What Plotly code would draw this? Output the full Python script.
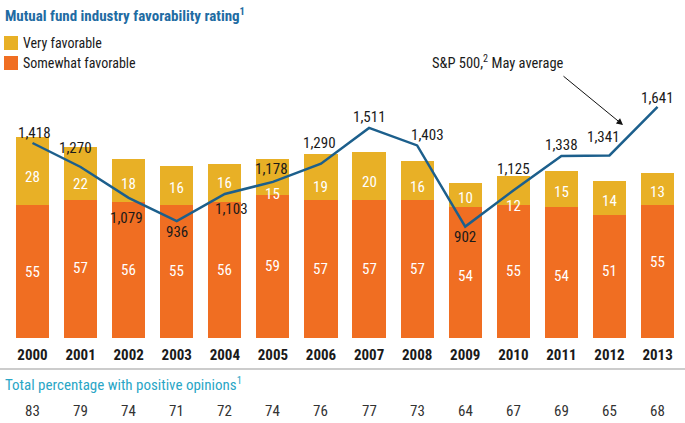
import plotly.graph_objects as go

# ---------------- data ----------------
years = ["2000", "2001", "2002", "2003", "2004", "2005", "2006",
         "2007", "2008", "2009", "2010", "2011", "2012", "2013"]
somewhat_favorable = [55, 57, 56, 55, 56, 59, 57, 57, 57, 54, 55, 54, 51, 55]
very_favorable = [28, 22, 18, 16, 16, 15, 19, 20, 16, 10, 12, 15, 14, 13]
sp500_may_avg = [1418, 1270, 1079, 936, 1103, 1178, 1290,
                 1511, 1403, 902, 1125, 1338, 1341, 1641]
total_positive = [83, 79, 74, 71, 72, 74, 76, 77, 73, 64, 67, 69, 65, 68]

# ---------------- style ----------------
FONT = "Roboto Condensed, Noto Sans Condensed, Liberation Sans Narrow, DejaVu Sans Condensed, sans-serif"
YELLOW = "#E8B026"
ORANGE = "#F06E22"
LINE = "#1C5F8C"
TITLE_BLUE = "#1F6CA3"
TEAL = "#2AA6C6"
DARK = "#1a1a1a"

W, H = 685, 423
PLOT_H = 338  # pixel height of plot area (baseline of bars)


def py(pix):
    """paper y from a pixel row"""
    return (PLOT_H - pix) / PLOT_H


def px(pix):
    return pix / W


idx = list(range(len(years)))

fig = go.Figure()
fig.add_trace(go.Bar(x=years, y=somewhat_favorable, name="Somewhat favorable",
                     marker=dict(color=ORANGE, line=dict(width=0)), hoverinfo="skip"))
fig.add_trace(go.Bar(x=years, y=very_favorable, name="Very favorable",
                     marker=dict(color=YELLOW, line=dict(width=0)), hoverinfo="skip"))
fig.add_trace(go.Scatter(x=years, y=sp500_may_avg, mode="lines", yaxis="y2",
                         line=dict(color=LINE, width=2.5), name="S&P 500",
                         hoverinfo="skip"))

ann = []
# label offsets (pixels, positive = down) to keep labels clear of the line
yellow_shift = [6, 11, 3, 2, 0, 17, 10, 6, 6, 3, 16, 3, 3, 3]
orange_shift = [1, -1, 0, 0, 0, -1, 0, 0, 0, 3, 0, 3, -5, -9]
for i in idx:
    o, v = somewhat_favorable[i], very_favorable[i]
    ann.append(dict(x=i, y=o / 2, xref="x", yref="y", text=str(o), showarrow=False,
                    yshift=-orange_shift[i],
                    font=dict(family=FONT, size=15, color="white")))
    ann.append(dict(x=i, y=o + v / 2, xref="x", yref="y", text=str(v), showarrow=False,
                    yshift=-yellow_shift[i],
                    font=dict(family=FONT, size=15, color="white")))

# S&P labels offsets (xshift, yshift) in px
sp_off = [(2, 10), (-5, 19), (-2, -20), (0, -11), (7, -15), (-1, 13), (-1, 21),
          (0, 11), (10, 10), (0, -10), (0, 21), (0, 11), (-6, 18), (0, 9)]
for i in idx:
    dx, dy = sp_off[i]
    ann.append(dict(x=i, y=sp500_may_avg[i], xref="x", yref="y2",
                    text=f"{sp500_may_avg[i]:,}", showarrow=False,
                    xshift=dx, yshift=dy,
                    font=dict(family=FONT, size=15, color=DARK)))

# total percentage row
for i in idx:
    ann.append(dict(x=i, y=py(411), xref="x", yref="paper", text=str(total_positive[i]),
                    showarrow=False, yanchor="middle",
                    font=dict(family=FONT, size=15, color="#333333")))

# titles
ann.append(dict(x=px(3), y=py(15), xref="paper", yref="paper", xanchor="left",
                yanchor="middle", showarrow=False,
                text="<b>Mutual fund industry favorability rating<sup>1</sup></b>",
                font=dict(family=FONT, size=15, color=TITLE_BLUE)))
ann.append(dict(x=px(3), y=py(384), xref="paper", yref="paper", xanchor="left",
                yanchor="middle", showarrow=False,
                text="Total percentage with positive opinions<sup>1</sup>",
                font=dict(family=FONT, size=15, color=TEAL)))

# legend (manual)
ann.append(dict(x=px(21), y=py(43), xref="paper", yref="paper", xanchor="left",
                yanchor="middle", showarrow=False, text="Very favorable",
                font=dict(family=FONT, size=14, color=DARK)))
ann.append(dict(x=px(21), y=py(63), xref="paper", yref="paper", xanchor="left",
                yanchor="middle", showarrow=False, text="Somewhat favorable",
                font=dict(family=FONT, size=14, color=DARK)))

# S&P annotation and arrow
ann.append(dict(x=px(498), y=py(63), xref="paper", yref="paper",
                xanchor="center", yanchor="middle",
                showarrow=False, text="S&P 500,<sup>2</sup> May average",
                font=dict(family=FONT, size=14.5, color=DARK)))
ann.append(dict(x=px(623), y=py(125), xref="paper", yref="paper", text="",
                showarrow=True, ax=-61, ay=-50, arrowhead=2, arrowsize=1.3,
                arrowwidth=1, arrowcolor="#111111"))

shapes = [
    dict(type="rect", xref="paper", yref="paper", x0=px(4), x1=px(18),
         y0=py(50), y1=py(36), fillcolor=YELLOW, line=dict(width=0)),
    dict(type="rect", xref="paper", yref="paper", x0=px(4), x1=px(18),
         y0=py(70), y1=py(56), fillcolor=ORANGE, line=dict(width=0)),
    dict(type="line", xref="paper", yref="paper", x0=0, x1=1,
         y0=py(369), y1=py(369), line=dict(color="#BBBBBB", width=1.5)),
]

x0 = -32.5 / 48.08
x1 = (W - 32.5) / 48.08
fig.update_layout(
    width=W, height=H,
    margin=dict(l=0, r=0, t=0, b=H - PLOT_H, pad=0),
    paper_bgcolor="white", plot_bgcolor="white",
    barmode="stack", bargap=0.31,
    showlegend=False,
    xaxis=dict(type="category", range=[x0, x1], showgrid=False, zeroline=False,
               showline=False, ticks="", tickmode="array", tickvals=years,
               ticktext=[f"<b>{y}</b>" for y in years],
               tickfont=dict(family=FONT, size=15, color=DARK),
               ticklabelstandoff=6),
    yaxis=dict(range=[0, PLOT_H / 2.42], visible=False, fixedrange=True),
    yaxis2=dict(range=[1418 - (PLOT_H - 143) / 0.162, 1418 + 143 / 0.162],
                overlaying="y", visible=False),
    annotations=ann, shapes=shapes,
)

fig.write_html("out.html", config={"displayModeBar": False},
               post_script="document.body.style.margin='0px';")
